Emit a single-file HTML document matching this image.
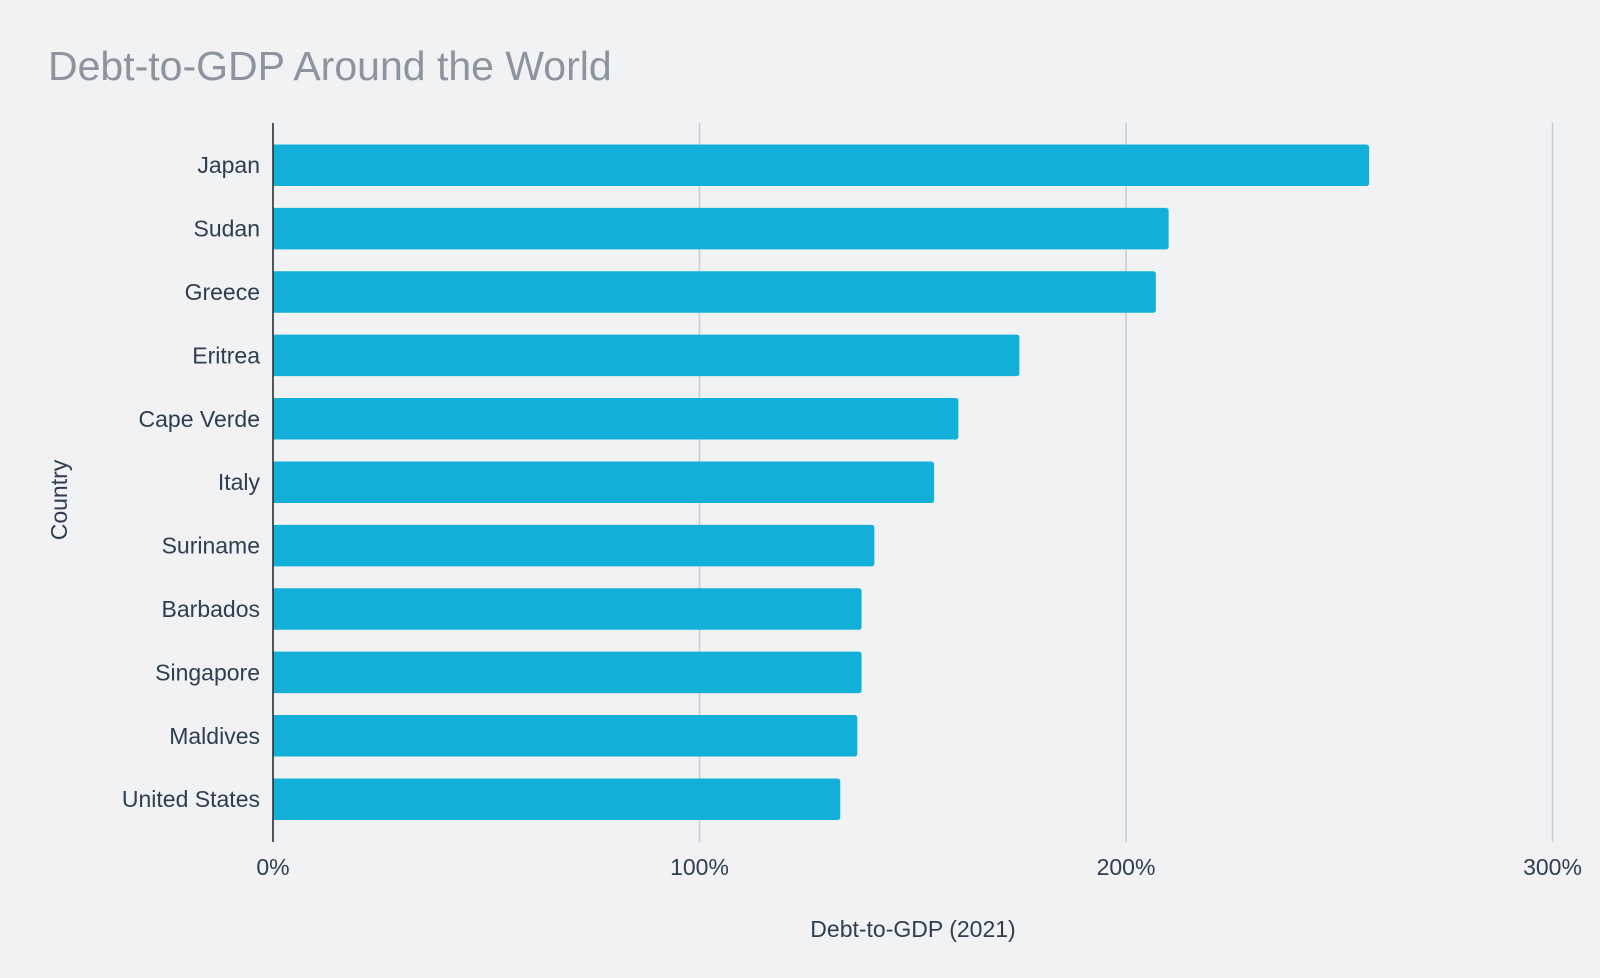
<!DOCTYPE html>
<html><head><meta charset="utf-8"><style>
html,body{margin:0;padding:0;background:#f0f2f4;}
svg{display:block;font-family:"Liberation Sans",Arial,sans-serif;}
</style></head><body>
<svg id="chart" width="1600" height="978" viewBox="0 0 1600 978" xmlns="http://www.w3.org/2000/svg">
<rect x="0" y="0" width="1600" height="978" fill="#f0f2f4"/>
<text x="48" y="80" font-size="41" fill="#8c959f">Debt-to-GDP Around the World</text>
<g id="grid"></g>
<g id="bars"></g>
<line x1="273" y1="123" x2="273" y2="842" stroke="#2a2f36" stroke-width="1.6"/>
<g id="ylabels"></g>
<g id="xlabels"></g>
<text x="913" y="937" font-size="23" fill="#2e3e50" text-anchor="middle">Debt-to-GDP (2021)</text>
<text transform="translate(67,500) rotate(-90)" font-size="23" fill="#2e3e50" text-anchor="middle">Country</text>
</svg>
<script>
const countries = ["Japan","Sudan","Greece","Eritrea","Cape Verde","Italy","Suriname","Barbados","Singapore","Maldives","United States"];
const debtValues = [257, 210, 207, 175, 160.7, 155, 141, 138, 138, 137, 133];
const tickValues = [0, 100, 200, 300];
const tickLabels = ["0%","100%","200%","300%"];

const NS = "http://www.w3.org/2000/svg";
const x0 = 273, xPer = 4.265;
const xScale = v => x0 + v * xPer;
const rowTop = 133.5, rowStep = 63.4, barH = 41.5;
const yCenter = i => rowTop + rowStep * i + rowStep / 2;

const grid = document.getElementById("grid");
const xl = document.getElementById("xlabels");
tickValues.forEach((t, i) => {
  const x = xScale(t);
  if (t !== 0) {
    const l = document.createElementNS(NS, "line");
    l.setAttribute("x1", x); l.setAttribute("x2", x);
    l.setAttribute("y1", 123); l.setAttribute("y2", 842);
    l.setAttribute("stroke", "#c8cbcf"); l.setAttribute("stroke-width", "1.5");
    
    
    grid.appendChild(l);
  }
  const tx = document.createElementNS(NS, "text");
  tx.setAttribute("x", x); tx.setAttribute("y", 875);
  tx.setAttribute("font-size", "23"); tx.setAttribute("fill", "#2e3e50");
  tx.setAttribute("text-anchor", "middle");
  tx.textContent = tickLabels[i];
  
  
  xl.appendChild(tx);
});

const bars = document.getElementById("bars");
const yl = document.getElementById("ylabels");
countries.forEach((c, i) => {
  const cy = yCenter(i);
  const w = xScale(debtValues[i]) - x0;
  const p = document.createElementNS(NS, "path");
  const r = 3, x = x0, y = cy - barH / 2;
  p.setAttribute("d", `M${x},${y} H${x + w - r} Q${x + w},${y} ${x + w},${y + r} V${y + barH - r} Q${x + w},${y + barH} ${x + w - r},${y + barH} H${x} Z`);
  p.setAttribute("fill", "#12b0d8");
  
  
  bars.appendChild(p);
  const t = document.createElementNS(NS, "text");
  t.setAttribute("x", 260); t.setAttribute("y", cy + 8);
  t.setAttribute("font-size", "23"); t.setAttribute("fill", "#2e3e50");
  t.setAttribute("text-anchor", "end");
  t.textContent = c;
  
  
  yl.appendChild(t);
});
</script>
</body></html>
